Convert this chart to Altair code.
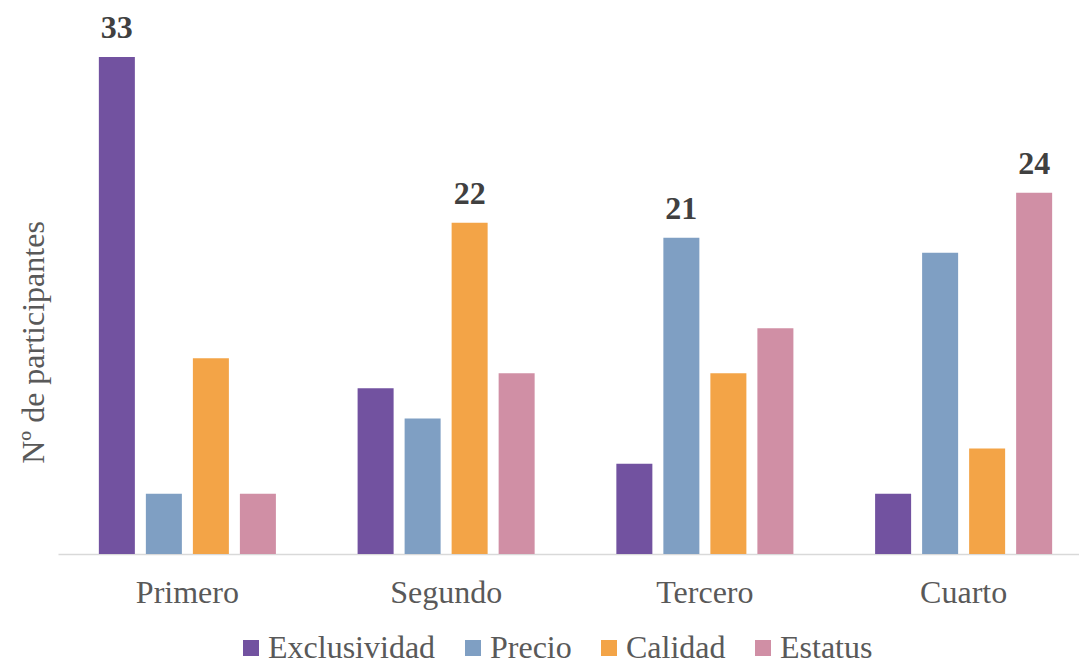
import altair as alt
import pandas as pd

categories = ["Primero", "Segundo", "Tercero", "Cuarto"]
series = ["Exclusividad", "Precio", "Calidad", "Estatus"]
colors = ["#7252A0", "#7F9FC3", "#F3A447", "#D08FA5"]

exclusividad = [33, 11, 6, 4]
precio = [4, 9, 21, 20]
calidad = [13, 22, 12, 7]
estatus = [4, 12, 15, 24]

rows = []
for s, vals in zip(series, [exclusividad, precio, calidad, estatus]):
    for c, v in zip(categories, vals):
        rows.append({"Puesto": c, "Atributo": s, "Valor": v})
df = pd.DataFrame(rows)

FONT = "Liberation Serif"

x = alt.X("Puesto:N", sort=categories, title=None,
          scale=alt.Scale(range=[0, 1035], paddingInner=0, paddingOuter=0),
          axis=alt.Axis(domainColor="#D9D9D9", domainWidth=1.5, ticks=False,
                        labelFont=FONT, labelFontSize=32, labelColor="#595959",
                        labelPadding=23, labelAngle=0))
xo = alt.XOffset("Atributo:N", sort=series,
                 scale=alt.Scale(paddingInner=0.234, paddingOuter=0.869))
y = alt.Y("Valor:Q", scale=alt.Scale(domain=[0, 35]),
          axis=alt.Axis(title="Nº de participantes", domain=False, ticks=False,
                        labels=False, grid=False, titleFont=FONT,
                        titleFontSize=32, titleFontWeight="normal",
                        titleColor="#595959", titlePadding=8, titleY=315))

bars = alt.Chart(df).mark_bar().encode(
    x=x, xOffset=xo, y=y,
    color=alt.Color("Atributo:N", sort=series,
                    scale=alt.Scale(domain=series, range=colors),
                    legend=alt.Legend(title=None, orient="none", direction="horizontal",
                                      legendX=177, legendY=605,
                                      symbolType="square", symbolSize=256,
                                      symbolStrokeWidth=0, symbolOpacity=1,
                                      labelFont=FONT, labelFontSize=32,
                                      labelColor="#595959", labelOffset=1,
                                      labelLimit=500, columnPadding=21)),
)

labels = alt.Chart(df).transform_joinaggregate(
    maxv="max(Valor)", groupby=["Puesto"]
).transform_filter(
    alt.datum.Valor == alt.datum.maxv
).mark_text(font=FONT, fontSize=32, fontWeight="bold", color="#404040",
            baseline="alphabetic", dy=-19).encode(
    x=alt.X("Puesto:N", sort=categories), xOffset=alt.XOffset("Atributo:N", sort=series),
    y="Valor:Q", text="Valor:Q")

chart = alt.layer(bars, labels).properties(
    width=1021, height=527,
    background="white",
    autosize=alt.AutoSizeParams(type="none"),
    padding={"left": 58, "top": 27, "right": 0, "bottom": 110},
).configure_view(strokeWidth=0)

chart.save("out.html", embed_options={"renderer": "svg", "actions": False})
